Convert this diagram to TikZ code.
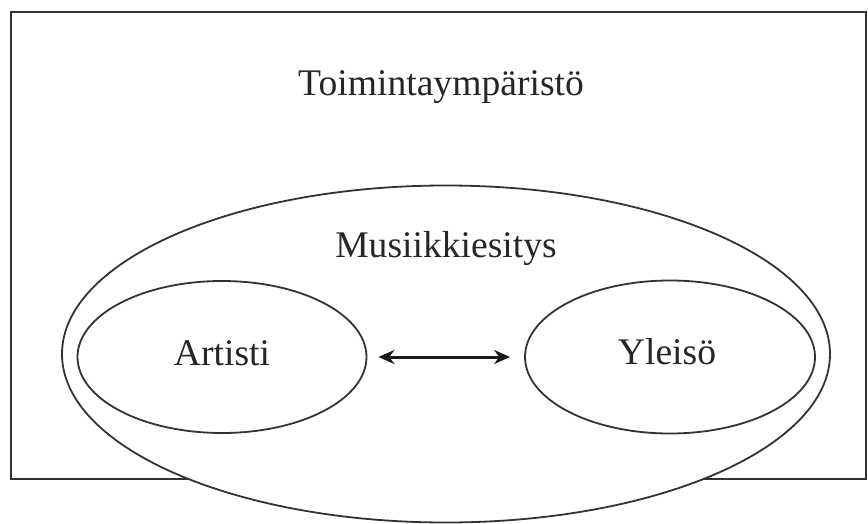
\documentclass[tikz,border=0pt]{standalone}
\usepackage{fontspec}
\setmainfont{Liberation Serif}
\usetikzlibrary{shapes.geometric,arrows.meta}
\begin{document}
\begin{tikzpicture}[x=1pt,y=-1pt,
  outline/.style={draw=black!80,line width=1.8pt},
  lbl/.style={anchor=base,inner sep=0pt,font=\fontsize{37.6}{45}\selectfont,text=black!85},
  ring/.style={outline,ellipse,fill=white,inner sep=0pt},
  link/.style={line width=3pt,black!90,{Stealth[length=16pt,width=14pt]}-{Stealth[length=16pt,width=14pt]}}]
  \useasboundingbox (0,0) rectangle (868,524);
  % environment frame
  \node[outline,rectangle,minimum width=855pt,minimum height=467pt,inner sep=0pt] (env) at (438.5,245.5) {};
  \node[lbl] (envlbl) at (441,96) {Toimintaympäristö};
  % performance ellipse, drawn over the frame's lower edge
  \node[ring,minimum width=768pt,minimum height=337pt] (perf) at (446,354) {};
  \node[lbl] (perflbl) at (446,257) {Musiikkiesitys};
  % artist and audience
  \node[ring,minimum width=289pt,minimum height=152pt] (artist) at (222,357) {};
  \node[ring,minimum width=290pt,minimum height=153pt] (aud) at (670,357) {};
  \node[lbl] (artlbl) at (222,365) {Artisti};
  \node[lbl] (audlbl) at (667,364) {Yleisö};
  \draw[link] ([xshift=11pt]artist.east) -- ([xshift=-14pt]aud.west);
\end{tikzpicture}
\end{document}
